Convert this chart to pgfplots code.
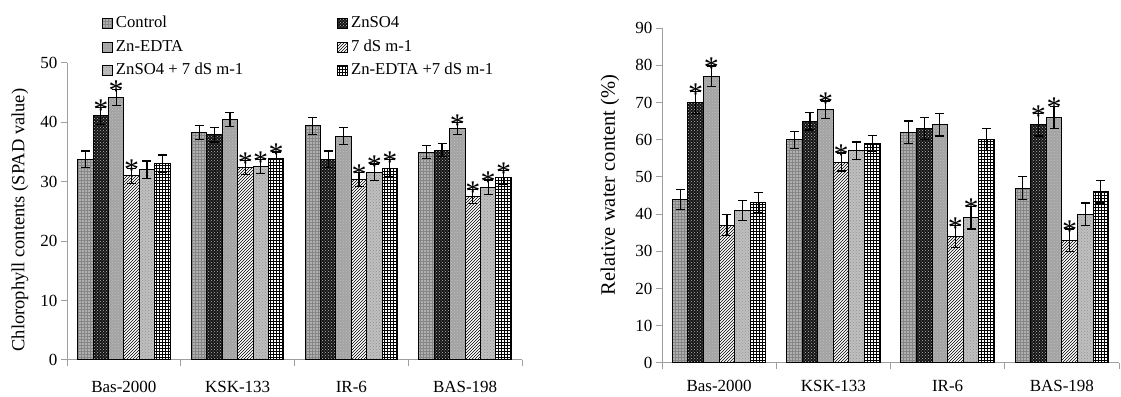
\documentclass[border=0pt]{standalone}
\usepackage{fontspec}
\setmainfont{Liberation Serif}
\usepackage{pgfplots}
\pgfplotsset{compat=1.18}
\usepackage{pgfplotstable}
\usetikzlibrary{patterns}

\pgfplotstableread{
cat C Ce Z Ze E Ee S Se ZS ZSe ES ESe
0 33.8 1.4 41.1 1.4 44.2 1.4 31.0 1.3 32.0 1.5 33.0 1.5
1 38.3 1.2 37.9 1.2 40.5 1.2 32.4 1.2 32.6 1.2 33.9 1.1
2 39.4 1.4 33.8 1.4 37.7 1.4 30.4 1.2 31.6 1.4 32.3 1.4
3 35.0 1.1 35.3 1.1 39.0 1.0 27.5 1.2 29.1 1.2 30.7 1.2
}\chl

\pgfplotstableread{
cat C Ce Z Ze E Ee S Se ZS ZSe ES ESe
0 44 2.7 70 3.0 77 2.8 37 2.8 41 2.7 43 2.7
1 60 2.3 65 2.4 68 2.4 54 2.4 57 2.4 59 2.2
2 62 3.0 63 3.0 64 3.0 34 3.0 39 3.0 60 3.0
3 47 3.0 64 3.0 66 3.0 33 3.0 40 3.0 46 3.0
}\rwc

\newcommand{\tfont}{\fontsize{17}{19}\selectfont}
\newcommand{\lfont}{\fontsize{16.7}{19}\selectfont}
\newcommand{\sfont}{\fontsize{30}{30}\selectfont}

\pgfplotsset{
  ctrl/.style={fill=gray!62, postaction={pattern=grid, pattern color=gray!95}},
  znso/.style={fill=black!92, postaction={pattern=crosshatch dots, pattern color=gray!55}},
  znedta/.style={fill=gray!72, postaction={pattern=crosshatch dots, pattern color=gray!50}},
  salt/.style={fill=white, postaction={pattern=north east lines, pattern color=black}},
  znsosalt/.style={fill=gray!50, postaction={pattern=crosshatch dots, pattern color=gray!85}},
  znedtasalt/.style={fill=white, postaction={pattern=grid, pattern color=black}},
  barbase/.style={draw=black, line width=1pt,
    error bars/y dir=both, error bars/y explicit,
    error bars/error bar style={line width=1.2pt, black, solid},
    error bars/error mark options={rotate=90, line width=1.2pt, mark size=4.5pt, black}},
  star/.style={ybar, bar width=0pt, draw=none, fill=none, forget plot,
    nodes near coords={*},
    every node near coord/.append style={font=\sfont, anchor=south, inner sep=0pt, yshift=-12pt}},
  common/.style={
    scale only axis,
    ybar,
    axis lines*=left,
    axis line style={-, draw=gray!75, line width=1pt},
    tick style={draw=gray!75, line width=1pt},
    tick align=outside,
    major tick length=6pt,
    xmin=-0.5, xmax=3.5,
    ymin=0,
    xtick={-0.5,0.5,1.5,2.5,3.5},
    xticklabels={,,,,},
    extra x ticks={0,1,2,3},
    extra x tick labels={Bas-2000,KSK-133,IR-6,BAS-198},
    ticklabel style={font=\tfont},
    /pgf/number format/assume math mode=true,
    every axis plot post/.append style={legend image code/.code={\draw[##1, draw=black, line width=0.8pt] (0pt,-5pt) rectangle (10pt,5pt);}},
  },
}

\begin{document}
\begin{tikzpicture}[x=1pt,y=1pt]
\useasboundingbox (0,0) rectangle (1121,396);

\begin{axis}[common,
  at={(67pt,36pt)}, anchor=south west,
  width=455pt, height=297pt,
  ymax=50, ytick={0,10,...,50},
  extra x tick style={major tick length=0pt, xticklabel style={yshift=-18pt}},
  bar width=15.4pt,
  ylabel={Chlorophyll contents (SPAD value)},
  ylabel style={at={(rel axis cs:0,0.471)}, anchor=center, yshift=47pt, font=\fontsize{18.5}{20}\selectfont},
  legend columns=2,
  legend cell align=left,
  legend style={at={(rel axis cs:0.0769,1.161)}, anchor=north west, draw=none, fill=none, inner sep=0pt,
    font=\lfont,
    nodes={inner sep=1pt, text height=11.5pt, text depth=3.5pt},
    row sep=6.5pt,
    /tikz/every odd column/.append style={column sep=2pt},
    /tikz/every even column/.append style={column sep=93pt}},
]
\addplot[barbase, ctrl, bar shift=-38.5pt] table[x=cat, y=C, y error=Ce] {\chl};
\addplot[barbase, znso, bar shift=-23.1pt] table[x=cat, y=Z, y error=Ze] {\chl};
\addplot[barbase, znedta, bar shift=-7.7pt] table[x=cat, y=E, y error=Ee] {\chl};
\addplot[barbase, salt, bar shift=7.7pt] table[x=cat, y=S, y error=Se] {\chl};
\addplot[barbase, znsosalt, bar shift=23.1pt] table[x=cat, y=ZS, y error=ZSe] {\chl};
\addplot[barbase, znedtasalt, bar shift=38.5pt] table[x=cat, y=ES, y error=ESe] {\chl};
\legend{Control, ZnSO4, Zn-EDTA, 7 dS m-1, ZnSO4 + 7 dS m-1, Zn-EDTA +7 dS m-1}
\addplot[star, bar shift=-23.1pt] coordinates {(0,42.5)};
\addplot[star, bar shift=-7.7pt] coordinates {(0,45.6) (3,40.0)};
\addplot[star, bar shift=7.7pt] coordinates {(0,32.3) (1,33.6) (2,31.6) (3,28.7)};
\addplot[star, bar shift=23.1pt] coordinates {(1,33.8) (2,33.0) (3,30.3)};
\addplot[star, bar shift=38.5pt] coordinates {(1,35.0) (2,33.7) (3,31.9)};
\end{axis}

\begin{axis}[common,
  at={(662pt,33pt)}, anchor=south west,
  width=457pt, height=335pt,
  ymax=90, ytick={0,10,...,90},
  extra x tick style={major tick length=0pt, xticklabel style={yshift=-14pt}},
  bar width=15.6pt,
  ylabel={Relative water content (\%)},
  ylabel style={at={(rel axis cs:0,0.531)}, anchor=center, yshift=52pt, font=\fontsize{20.5}{22}\selectfont},
]
\addplot[barbase, ctrl, bar shift=-39pt] table[x=cat, y=C, y error=Ce] {\rwc};
\addplot[barbase, znso, bar shift=-23.4pt] table[x=cat, y=Z, y error=Ze] {\rwc};
\addplot[barbase, znedta, bar shift=-7.8pt] table[x=cat, y=E, y error=Ee] {\rwc};
\addplot[barbase, salt, bar shift=7.8pt] table[x=cat, y=S, y error=Se] {\rwc};
\addplot[barbase, znsosalt, bar shift=23.4pt] table[x=cat, y=ZS, y error=ZSe] {\rwc};
\addplot[barbase, znedtasalt, bar shift=39pt] table[x=cat, y=ES, y error=ESe] {\rwc};
\addplot[star, bar shift=-23.4pt] coordinates {(0,73) (3,67)};
\addplot[star, bar shift=-7.8pt] coordinates {(0,79.8) (1,70.4) (3,69)};
\addplot[star, bar shift=7.8pt] coordinates {(1,56.4) (2,37) (3,36)};
\addplot[star, bar shift=23.4pt] coordinates {(2,42)};
\end{axis}
\end{tikzpicture}
\end{document}
